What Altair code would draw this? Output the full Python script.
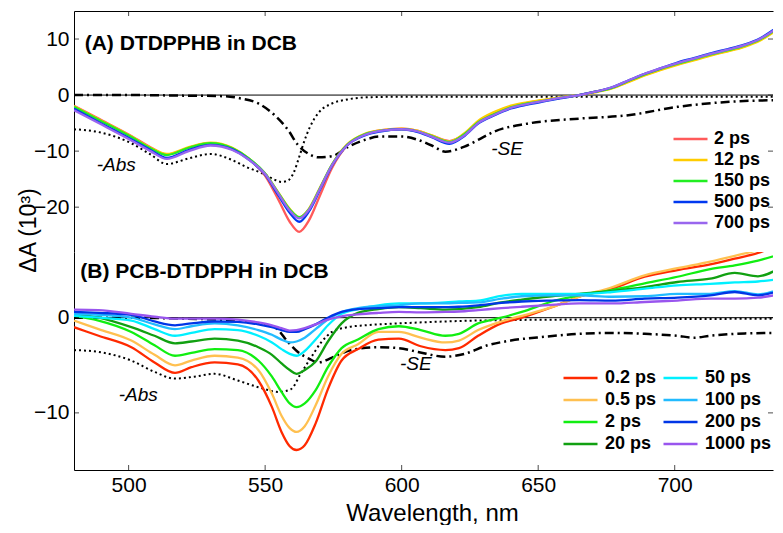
import altair as alt
import pandas as pd

FONT = "Liberation Sans"

# ---------------- Panel A: DTDPPHB in DCB ----------------
wlA = [480, 489, 501, 508, 514, 522, 530, 538, 544, 550, 555, 559, 562.5, 566, 570,
       574.5, 580, 586.5, 592, 600, 606, 611, 617.5, 623, 628, 634, 640, 646, 652.5,
       658, 665, 671, 677, 683, 689, 695, 701, 707, 713.5, 719.5, 725.5, 731.5, 739]
A_2ps = [-1.9, -4.2, -7.3, -9.3, -10.6, -9.4, -8.6, -9.5, -11.4, -14.4, -18.8, -22.6, -24.4,
         -22.4, -18.0, -13.0, -9.0, -7.0, -6.3, -6.0, -6.4, -7.2, -8.2, -7.0, -4.8, -3.2,
         -2.1, -1.4, -0.9, -0.5, 0.0, 0.6, 1.3, 2.4, 3.6, 4.6, 5.5, 6.3, 7.2, 7.9, 8.7, 9.9, 12.3]
A_12ps = [-2.0, -4.3, -7.4, -9.4, -10.5, -9.3, -8.5, -9.4, -11.3, -14.0, -17.5, -20.3, -21.8,
          -20.3, -16.6, -12.4, -8.8, -6.9, -6.3, -6.0, -6.4, -7.2, -8.3, -6.8, -4.6, -3.0,
          -1.9, -1.3, -0.8, -0.4, 0.0, 0.5, 1.2, 2.3, 3.5, 4.5, 5.4, 6.2, 7.1, 7.8, 8.6, 9.8, 12.2]
A_150ps = [-2.1, -4.4, -7.5, -9.5, -10.7, -9.4, -8.6, -9.5, -11.3, -14.0, -17.6, -20.4, -21.8,
           -20.4, -16.7, -12.4, -8.9, -7.0, -6.4, -6.1, -6.5, -7.3, -8.4, -7.0, -4.9, -3.4,
           -2.2, -1.5, -1.0, -0.5, 0.0, 0.6, 1.3, 2.5, 3.7, 4.7, 5.6, 6.4, 7.3, 8.0, 8.8, 10.0, 12.4]
A_500ps = [-2.4, -4.8, -7.9, -9.8, -11.2, -9.8, -8.9, -9.7, -11.5, -14.2, -18.0, -21.0, -22.6,
           -20.8, -17.0, -12.6, -9.0, -7.2, -6.5, -6.1, -6.6, -7.5, -8.7, -7.3, -5.1, -3.6,
           -2.4, -1.7, -1.1, -0.6, 0.0, 0.6, 1.4, 2.6, 3.8, 4.8, 5.8, 6.6, 7.5, 8.2, 9.0, 10.2, 12.6]
A_700ps = [-2.7, -5.0, -8.1, -10.0, -11.4, -10.0, -9.0, -9.8, -11.5, -14.1, -17.7, -20.6, -22.0,
           -20.5, -16.8, -12.5, -9.0, -7.1, -6.4, -6.1, -6.5, -7.4, -8.5, -7.2, -5.0, -3.5,
           -2.3, -1.6, -1.0, -0.5, 0.0, 0.6, 1.4, 2.6, 3.8, 4.8, 5.7, 6.5, 7.4, 8.1, 8.9, 10.1, 12.5]
namesA = ["2 ps", "12 ps", "150 ps", "500 ps", "700 ps"]
colorsA = ["#FF5A5A", "#FFCC00", "#22EE22", "#0038F0", "#9966EE"]

absA_wl = [480, 489, 501, 508, 514, 522, 530, 537, 543, 550, 553, 556, 558.5, 560.5, 562.5,
           564.5, 566.5, 569.5, 574.5, 580, 587, 600, 620, 660, 700, 739]
absA_val = [-6.1, -6.6, -8.6, -10.6, -12.3, -11.3, -10.5, -11.4, -12.8, -14.2, -15.0, -15.5,
            -15.2, -13.8, -11.0, -8.0, -5.6, -3.2, -1.5, -0.8, -0.4, -0.3, -0.3, -0.3, -0.3, -0.3]
seA_wl = [480, 500, 520, 535, 541, 547.5, 553.5, 558.5, 562, 566, 569.5, 574.5, 580.5, 586.5,
          592, 600, 606, 611, 616, 623, 628, 634, 646, 665, 683, 701, 720, 739]
seA_val = [0.0, 0.0, -0.1, -0.2, -0.6, -1.5, -3.6, -6.3, -8.9, -10.5, -11.1, -10.9, -9.2, -8.0,
           -7.4, -7.4, -8.0, -9.0, -10.1, -9.2, -8.0, -6.5, -5.1, -4.2, -3.6, -2.1, -1.2, -0.9]

# ---------------- Panel B: PCB-DTDPPH in DCB ----------------
wlB = [480, 489, 501, 509.5, 517, 523, 531.5, 540, 547.5, 552.5, 556, 559, 561.5, 564.5, 568.5,
       573, 578, 584, 591.5, 599, 607, 616, 621, 628, 636.5, 644, 655, 665, 677, 689, 701, 713,
       722, 730.5, 739]
B_02 = [-1.0, -1.9, -3.1, -4.7, -5.8, -5.2, -4.7, -4.9, -6.6, -9.4, -12.0, -13.5, -13.9, -13.4,
        -11.1, -7.5, -4.5, -3.3, -2.3, -2.2, -3.0, -3.4, -3.2, -1.9, -0.6, 0.0, 1.1, 2.2, 3.05,
        4.3, 5.0, 5.6, 6.2, 6.8, 7.8]
B_05 = [-0.3, -1.2, -2.4, -3.9, -5.0, -4.5, -4.0, -4.2, -5.5, -8.0, -10.3, -11.6, -12.0, -11.4,
        -9.2, -6.2, -3.8, -2.8, -1.5, -1.5, -2.1, -2.6, -2.4, -1.3, -0.4, 0.2, 1.1, 2.2, 3.2,
        4.45, 5.2, 5.9, 6.5, 7.1, 8.0]
B_2 = [0.2, -0.3, -1.5, -2.9, -4.0, -3.7, -3.3, -3.4, -4.5, -6.2, -7.8, -9.0, -9.4, -9.0, -7.6,
       -5.2, -3.2, -2.3, -1.2, -0.9, -1.3, -1.9, -1.7, -0.6, 0.0, 0.6, 1.7, 2.35, 2.9, 3.6, 4.3,
       5.1, 5.5, 6.0, 6.7]
B_20 = [0.4, 0.0, -1.0, -1.9, -2.7, -2.5, -2.2, -2.4, -3.1, -3.9, -4.8, -5.5, -5.9, -5.5, -4.6,
        -2.5, -0.6, 0.5, 0.9, 1.1, 1.0, 0.85, 0.9, 1.1, 1.6, 1.9, 2.25, 2.5, 2.8, 3.2, 3.75, 4.1,
        4.7, 4.35, 5.3]
B_50 = [0.2, 0.0, -0.3, -1.2, -1.9, -1.6, -1.2, -1.3, -1.9, -2.6, -3.3, -3.8, -4.0, -3.5, -2.3,
        -0.8, 0.4, 0.9, 1.3, 1.5, 1.5, 1.6, 1.7, 1.8, 2.3, 2.5, 2.5, 2.5, 2.7, 3.05, 3.4, 3.55,
        3.7, 3.8, 4.1]
B_100 = [0.4, 0.3, 0.0, -0.7, -1.2, -0.9, -0.6, -0.8, -1.3, -1.8, -2.3, -2.6, -2.5, -2.1, -1.2,
         -0.2, 0.6, 1.0, 1.2, 1.3, 1.5, 1.5, 1.55, 1.6, 2.0, 2.25, 2.35, 2.35, 2.2, 2.25, 2.5, 2.5,
         2.8, 2.45, 3.05]
B_200 = [0.6, 0.5, 0.3, -0.4, -0.8, -0.6, -0.4, -0.45, -0.7, -1.0, -1.3, -1.5, -1.5, -1.2, -0.7,
         0.0, 0.6, 0.9, 1.0, 1.1, 1.1, 1.1, 1.15, 1.3, 1.55, 1.7, 1.8, 1.85, 1.8, 2.0, 2.1, 2.35,
         2.7, 2.35, 2.9]
B_1000 = [0.85, 0.8, 0.4, 0.1, -0.1, -0.1, -0.1, -0.2, -0.5, -0.8, -1.1, -1.35, -1.3, -1.1, -0.7,
          -0.2, 0.15, 0.35, 0.5, 0.6, 0.55, 0.6, 0.65, 0.8, 1.0, 1.15, 1.35, 1.5, 1.5, 1.65, 1.8,
          2.0, 2.0, 2.1, 2.5]
namesB = ["0.2 ps", "0.5 ps", "2 ps", "20 ps", "50 ps", "100 ps", "200 ps", "1000 ps"]
colorsB = ["#FF2A00", "#FFC050", "#11EE11", "#11A011", "#00F0FF", "#22BBFF", "#0036E6", "#9955EE"]

absB_wl = [480, 489, 501, 509.5, 517, 524, 531.5, 540, 547.5, 555, 559.5, 563, 567, 570.5, 574.5,
           580, 586.5, 599, 628, 660, 700, 739]
absB_val = [-3.4, -3.6, -4.5, -5.7, -6.4, -6.2, -5.9, -6.6, -7.3, -7.8, -7.5, -5.9, -4.1, -2.6,
            -1.5, -1.0, -0.8, -0.6, -0.3, -0.2, -0.15, -0.1]
seB_wl = [480, 500, 520, 540, 547, 553.5, 558.5, 562, 566, 569.5, 574.5, 581.5, 591.5, 599, 606,
          616, 623, 631.5, 640, 652.5, 664.7, 677, 689, 701, 707, 713, 725.7, 739]
seB_val = [0.0, 0.0, -0.1, -0.3, -0.6, -1.0, -2.6, -3.6, -4.3, -4.7, -4.2, -3.4, -3.1, -3.2, -3.6,
           -4.1, -3.8, -2.9, -2.4, -2.0, -1.7, -1.6, -1.7, -1.9, -2.1, -1.9, -1.65, -1.6]

# tick values
x_ticks = [500, 550, 600, 650, 700]
yA_ticks = [-20, -10, 0, 10]
yB_ticks = [-10, 0]

# annotations
annA_x = [483.9, 488.3, 632.8]
annA_y = [9.1, -12.4, -9.55]
annA_t = ["(A) DTDPPHB in DCB", "-Abs", "-SE"]
annB_x = [482.3, 496.4, 599.4]
annB_y = [4.8, -8.07, -4.86]
annB_t = ["(B) PCB-DTDPPH in DCB", "-Abs", "-SE"]


def long_df(wl, names, series):
    rows = []
    for n, vals in zip(names, series):
        for w, v in zip(wl, vals):
            rows.append({"x": w, "y": v, "s": n})
    return pd.DataFrame(rows)


dfA = long_df(wlA, namesA, [A_2ps, A_12ps, A_150ps, A_500ps, A_700ps])
dfB = long_df(wlB, namesB, [B_02, B_05, B_2, B_20, B_50, B_100, B_200, B_1000])

W = 699
HA = 241
HB = 218
xs = alt.Scale(domain=[480, 736], nice=False, zero=False)
ysA = alt.Scale(domain=[-28, 15], nice=False, zero=False)
ysB = alt.Scale(domain=[-16, 6.9], nice=False, zero=False)

XA = alt.X("x:Q", scale=xs, axis=alt.Axis(orient="top", labels=False, ticks=False, grid=False,
                                          title=None, domainColor="black"))
YA = alt.Y("y:Q", scale=ysA, axis=alt.Axis(values=yA_ticks, ticks=False, grid=False,
                                           labelFontSize=21, labelPadding=5, labelFont=FONT,
                                           title="ΔA (10³)", titleFontSize=23, titleFont=FONT,
                                           titleFontWeight="normal", titleX=-39, titleY=219,
                                           titleBaseline="alphabetic", titleAngle=-90,
                                           titleAlign="center"))
XB = alt.X("x:Q", scale=xs, axis=alt.Axis(orient="bottom", values=x_ticks, ticks=False, grid=False,
                                          labelFontSize=21, labelPadding=4, labelFont=FONT,
                                          title="Wavelength, nm", titleFontSize=24, titleFont=FONT,
                                          titleFontWeight="normal", titleX=358, titleY=50,
                                          titleBaseline="alphabetic"))
YB = alt.Y("y:Q", scale=ysB, axis=alt.Axis(values=yB_ticks, ticks=False, grid=False,
                                           labelFontSize=21, labelPadding=5, labelFont=FONT,
                                           title=None))


def panel(df, legend, abs_wl, abs_val, se_wl, se_val, X, Y, yticks,
          ann_x, ann_y, ann_t, H, domain_order, range_order, top):
    zero = alt.Chart(pd.DataFrame({"y": [0]})).mark_rule(color="black", strokeWidth=1).encode(y=Y)
    absd = alt.Chart(pd.DataFrame({"x": abs_wl, "y": abs_val})).mark_line(
        color="black", strokeWidth=2, strokeDash=[2, 3], interpolate="monotone", clip=True
    ).encode(x=X, y=Y)
    sed = alt.Chart(pd.DataFrame({"x": se_wl, "y": se_val})).mark_line(
        color="black", strokeWidth=2.5, strokeDash=[9, 4, 2, 4], interpolate="monotone", clip=True
    ).encode(x=X, y=Y)
    lines = alt.Chart(df).mark_line(strokeWidth=2.3, interpolate="monotone", clip=True).encode(
        x=X, y=Y,
        color=alt.Color("s:N", scale=alt.Scale(domain=domain_order, range=range_order),
                        legend=legend),
        detail="s:N",
    )
    ann = pd.DataFrame({"x": ann_x, "y": ann_y, "t": ann_t})
    title_txt = alt.Chart(ann.iloc[:1]).mark_text(
        align="left", baseline="middle", font=FONT, fontSize=21, fontWeight="bold", color="black"
    ).encode(x=X, y=Y, text="t:N")
    lab_txt = alt.Chart(ann.iloc[1:]).mark_text(
        align="left", baseline="middle", font=FONT, fontSize=19, fontStyle="italic", color="black"
    ).encode(x=X, y=Y, text="t:N")
    ytk = pd.DataFrame({"y": yticks})
    lt = alt.Chart(ytk).mark_tick(orient="horizontal", size=5, thickness=1, color="black").encode(
        y=Y, x=alt.value(2.5))
    rt = alt.Chart(ytk).mark_tick(orient="horizontal", size=5, thickness=1, color="black").encode(
        y=Y, x=alt.value(W - 2.5))
    xtk = pd.DataFrame({"x": x_ticks})
    ypos = 2.5 if top else H - 2.5
    xt = alt.Chart(xtk).mark_tick(orient="vertical", size=5, thickness=1, color="black").encode(
        x=X, y=alt.value(ypos))
    return alt.layer(zero, absd, sed, lines, title_txt, lab_txt, lt, rt, xt).properties(
        width=W, height=H)


legA = alt.Legend(orient="none", legendX=598, legendY=118, title=None, symbolType="stroke",
                  symbolSize=34 * 34, symbolStrokeWidth=2.5, labelFontSize=18,
                  labelFontWeight="bold", labelFont=FONT, labelColor="black", labelOffset=5,
                  clipHeight=20, rowPadding=1, padding=0)
legB = alt.Legend(orient="none", legendX=488, legendY=116, title=None, symbolType="stroke",
                  symbolSize=34 * 34, symbolStrokeWidth=2.5, labelFontSize=18,
                  labelFontWeight="bold", labelFont=FONT, labelColor="black", labelOffset=6,
                  clipHeight=20, rowPadding=2, padding=0, columns=2, columnPadding=5)

pA = panel(dfA, legA, absA_wl, absA_val, seA_wl, seA_val, XA, YA, yA_ticks,
           annA_x, annA_y, annA_t, HA, namesA, colorsA, True)
pB = panel(dfB, legB, absB_wl, absB_val, seB_wl, seB_val, XB, YB, yB_ticks,
           annB_x, annB_y, annB_t, HB, namesB, colorsB, False)

chart = alt.vconcat(pA, pB, spacing=0, bounds="flush").resolve_scale(
    color="independent", y="independent"
).resolve_legend(color="independent").properties(
    padding={"top": 3, "left": 9, "right": 0, "bottom": 0}, background="white"
).configure_view(stroke=None).configure_axis(
    domainColor="black", labelColor="black", titleColor="black", grid=False
)

chart.save("out.html", embed_options={"renderer": "svg", "actions": False})
